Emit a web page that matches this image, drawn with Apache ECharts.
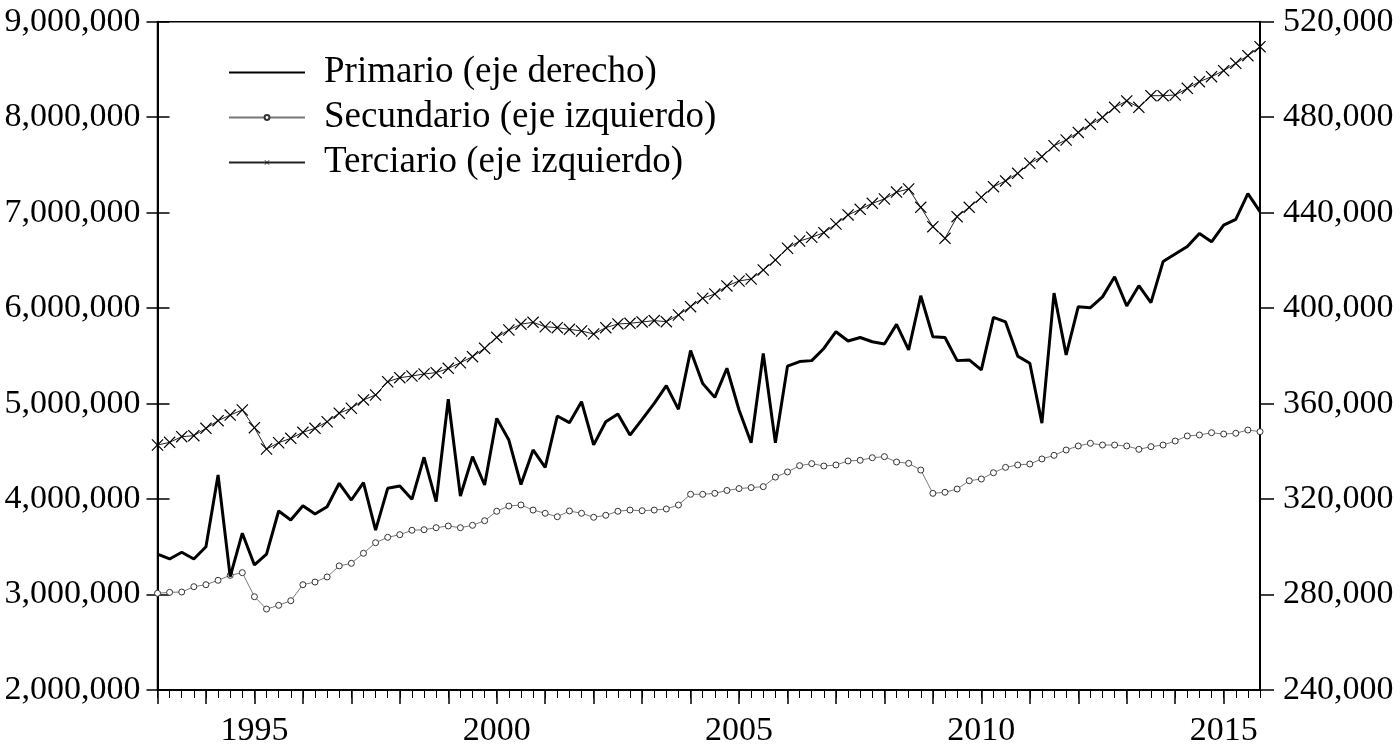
<!DOCTYPE html>
<html><head><meta charset="utf-8">
<script src="https://cdn.jsdelivr.net/npm/echarts@6/dist/echarts.min.js"></script>
<style>html,body{margin:0;padding:0;background:#fff}#c{width:1400px;height:749px}</style>
</head><body><div id="c"></div>
<script>
// Quarterly categories 1993Q1 .. 2015Q4
const quarters = [];
for (let y = 1993; y <= 2015; y++) for (let q = 1; q <= 4; q++) quarters.push(y + 'Q' + q);

const seriesNames = ['Primario (eje derecho)', 'Secundario (eje izquierdo)', 'Terciario (eje izquierdo)'];

// Right axis
const primario = [
 296900,294900,297700,294900,300000,330100,287500,305700,
 292400,296900,315000,311200,317200,313700,316800,326600,
 319600,326900,307000,324500,325500,319900,337500,318900,
 361800,321300,337800,325900,353800,344700,326100,340600,
 333300,354800,352000,360800,342700,352400,355600,346800,
 353400,360100,367500,357600,382200,368400,362600,374800,
 357300,343600,381000,343600,375700,377600,378000,383100,
 390100,386200,387700,385900,385000,393200,382500,405200,
 388000,387700,378000,378300,374100,396100,394200,379900,
 376900,351800,406300,380400,400600,400200,404700,413100,
 400900,409400,402300,419500,422700,425800,431300,427800,
 434800,437200,448000,440400
];
// Left axis
const secundario = [
 3013000,3023000,3026000,3082000,3103000,3149000,3201000,3229000,
 2977000,2848000,2887000,2935000,3103000,3131000,3184000,3300000,
 3327000,3432000,3543000,3599000,3627000,3673000,3679000,3700000,
 3718000,3700000,3725000,3773000,3872000,3927000,3938000,3885000,
 3851000,3815000,3875000,3851000,3809000,3830000,3872000,3885000,
 3878000,3885000,3896000,3938000,4050000,4050000,4060000,4090000,
 4110000,4120000,4130000,4230000,4284000,4350000,4371000,4346000,
 4357000,4399000,4406000,4433000,4444000,4388000,4374000,4304000,
 4060000,4071000,4105000,4192000,4210000,4276000,4332000,4357000,
 4367000,4420000,4458000,4514000,4556000,4584000,4566000,4566000,
 4556000,4521000,4549000,4566000,4608000,4661000,4671000,4695000,
 4681000,4689000,4723000,4706000
];
const terciario = [
 4566000,4594000,4653000,4664000,4741000,4821000,4880000,4933000,
 4748000,4524000,4590000,4636000,4699000,4741000,4810000,4900000,
 4951000,5038000,5090000,5229000,5271000,5289000,5310000,5324000,
 5369000,5428000,5491000,5579000,5694000,5771000,5832000,5851000,
 5805000,5795000,5778000,5760000,5729000,5795000,5834000,5841000,
 5855000,5869000,5858000,5928000,6015000,6103000,6148000,6232000,
 6284000,6305000,6399000,6504000,6627000,6703000,6742000,6790000,
 6881000,6976000,7035000,7098000,7143000,7215000,7248000,7056000,
 6853000,6731000,6958000,7056000,7161000,7272000,7332000,7412000,
 7517000,7586000,7701000,7761000,7840000,7925000,7998000,8103000,
 8170000,8103000,8225000,8225000,8232000,8302000,8372000,8424000,
 8487000,8564000,8644000,8738000
];

const leftMin = 2000000, leftMax = 9000000, leftStep = 1000000;
const rightMin = 240000, rightMax = 520000, rightStep = 40000;

const FONT = 'Liberation Serif';
const fmt = v => String(Math.round(v)).replace(/\B(?=(\d{3})+(?!\d))/g, ',');
const xSymbol = 'path://M0,7L7,0L50,43L93,0L100,7L57,50L100,93L93,100L50,57L7,100L0,93L43,50Z';

const chart = echarts.init(document.getElementById('c'), null, {renderer: 'canvas'});
chart.setOption({
  animation: false,
  backgroundColor: '#fff',
  grid: {left: 157.5, right: 140, top: 21.7, bottom: 59, show: true, borderColor: '#000', borderWidth: 1.5, backgroundColor: 'transparent'},
  legend: {
    orient: 'vertical', left: 223, top: 49, itemWidth: 76, itemHeight: 6, itemGap: 8,
    data: [
      {name: seriesNames[0], itemStyle: {opacity: 0}},
      {name: seriesNames[1]},
      {name: seriesNames[2]}
    ],
    textStyle: {fontFamily: FONT, fontSize: 37, color: '#000', lineHeight: 37, padding: [0, 0, 0, 14]}
  },
  xAxis: [
    {
      type: 'category', data: quarters, boundaryGap: false, position: 'bottom',
      axisLine: {lineStyle: {color: '#000', width: 2}},
      axisTick: {interval: 0, length: 8, lineStyle: {color: '#000', width: 1}},
      axisLabel: {
        interval: (i, v) => v.endsWith('Q1') && (+v.slice(0, 4)) % 5 === 0,
        formatter: v => v.slice(0, 4),
        fontFamily: FONT, fontSize: 34, color: '#000', margin: 24
      },
      splitLine: {show: false}
    },
    {
      type: 'category', data: quarters, boundaryGap: false, position: 'bottom',
      axisLine: {show: false},
      axisTick: {interval: (i, v) => v.endsWith('Q1'), length: 14, lineStyle: {color: '#000', width: 1.5}},
      axisLabel: {show: false},
      splitLine: {show: false}
    }
  ],
  yAxis: [
    {
      type: 'value', position: 'left', min: leftMin, max: leftMax, interval: leftStep,
      axisLine: {show: true, lineStyle: {color: '#000', width: 2}},
      axisTick: {show: true, length: 11, lineStyle: {color: '#000', width: 1.5}},
      axisLabel: {formatter: fmt, fontFamily: FONT, fontSize: 34, color: '#000', margin: 17},
      splitLine: {show: false}
    },
    {
      type: 'value', position: 'right', min: rightMin, max: rightMax, interval: rightStep,
      axisLine: {show: true, lineStyle: {color: '#000', width: 2}},
      axisTick: {show: true, length: 14, lineStyle: {color: '#000', width: 1.5}},
      axisLabel: {formatter: fmt, fontFamily: FONT, fontSize: 34, color: '#000', margin: 23},
      splitLine: {show: false}
    },
    {
      type: 'value', position: 'left', min: leftMin, max: leftMax, interval: leftStep,
      axisLine: {show: false},
      axisTick: {show: true, inside: true, length: 12, lineStyle: {color: '#000', width: 1.5}},
      axisLabel: {show: false},
      splitLine: {show: false}
    }
  ],
  series: [
    {
      name: seriesNames[0], type: 'line', yAxisIndex: 1, data: primario,
      showSymbol: false, symbol: 'none',
      lineStyle: {color: '#000', width: 3}, itemStyle: {color: '#000'}, z: 3
    },
    {
      name: seriesNames[1], type: 'line', yAxisIndex: 0, data: secundario,
      symbol: 'circle', symbolSize: 6, showSymbol: true, showAllSymbol: true,
      lineStyle: {color: '#777', width: 1},
      itemStyle: {color: '#fff', borderColor: '#333', borderWidth: 1}, z: 2
    },
    {
      name: seriesNames[2], type: 'line', yAxisIndex: 0, data: terciario,
      symbol: xSymbol, symbolSize: 12, showSymbol: true, showAllSymbol: true,
      lineStyle: {color: '#222', width: 1},
      itemStyle: {color: '#000'}, z: 2
    }
  ]
});
</script>
</body></html>
